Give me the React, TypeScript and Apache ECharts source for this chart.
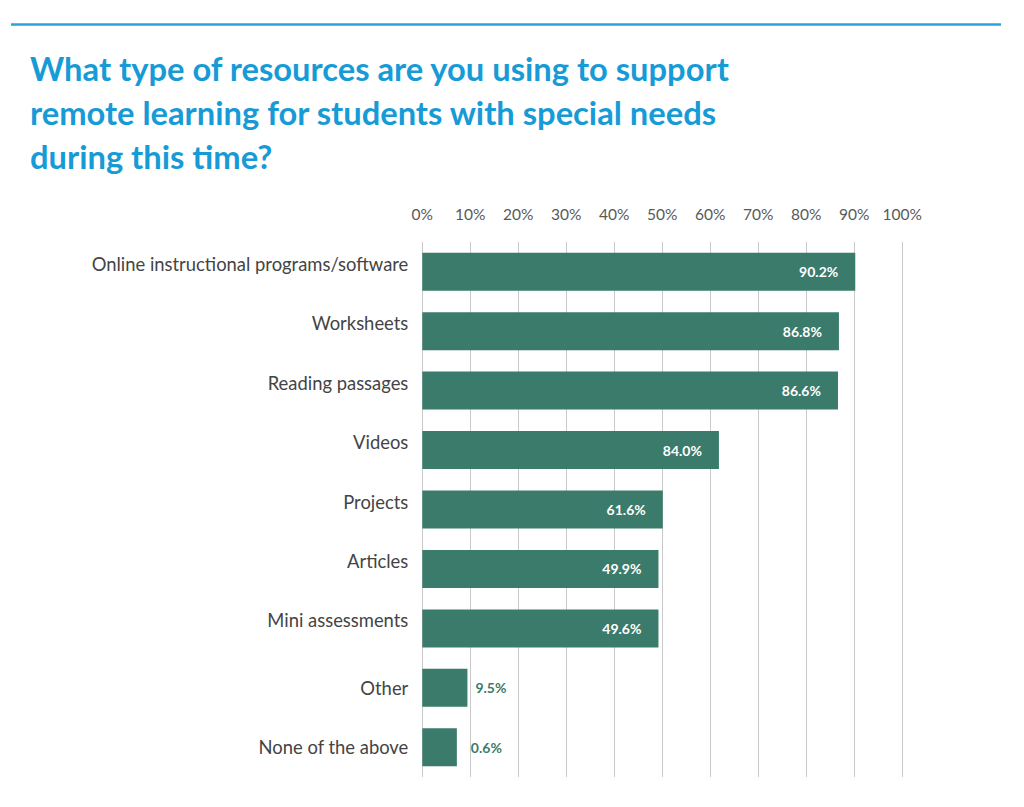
import React, { useEffect, useRef } from "react";
import * as echarts from "echarts";

const titleLines = [
  "What type of resources are you using to support",
  "remote learning for students with special needs",
  "during this time?",
];
const categories = [
  "Online instructional programs/software",
  "Worksheets",
  "Reading passages",
  "Videos",
  "Projects",
  "Articles",
  "Mini assessments",
  "Other",
  "None of the above",
];
// bar lengths as drawn in the reference (percent)
const barValues = [90.2, 86.8, 86.6, 61.8, 50.1, 49.2, 49.2, 9.4, 7.2];
// printed labels as shown in the reference
const labelTexts = ["90.2%", "86.8%", "86.6%", "84.0%", "61.6%", "49.9%", "49.6%", "9.5%", "0.6%"];
const tickValues = [0, 10, 20, 30, 40, 50, 60, 70, 80, 90, 100];

const GREEN = "#3b7b6b";
const FONT = "Lato";

export default function App() {
  const ref = useRef<HTMLDivElement>(null);
  useEffect(() => {
    document.body.style.margin = "0";
    const chart = echarts.init(ref.current!, null, { renderer: "svg" });
    const outside = [false, false, false, false, false, false, false, true, true];
    const outsideDist = [0, 0, 0, 0, 0, 0, 0, 8, 14];
    chart.setOption({
      animation: false,
      backgroundColor: "#ffffff",
      title: {
        text: titleLines.join("\n"),
        left: 30,
        top: 46,
        padding: 0,
        textStyle: {
          fontFamily: FONT,
          fontWeight: "bold",
          fontSize: 32.7,
          lineHeight: 44,
          color: "#179bd7",
        },
      },
      graphic: [
        {
          type: "line",
          shape: { x1: 11, y1: 24.5, x2: 1001, y2: 24.5 },
          style: { stroke: "#2aa3dc", lineWidth: 2.5 },
        },
      ],
      grid: { left: 422.3, right: 121.7, top: 242, bottom: 30, containLabel: false },
      xAxis: {
        type: "value",
        position: "top",
        min: tickValues[0],
        max: tickValues[tickValues.length - 1],
        interval: 10,
        axisLine: { show: false },
        axisTick: { show: false },
        axisLabel: {
          formatter: (v: number) => `${v}%`,
          fontFamily: FONT,
          fontSize: 15.5,
          color: "#595959",
          margin: 20,
        },
        splitLine: { show: true, lineStyle: { color: "#c9c9c9", width: 1 } },
      },
      yAxis: {
        type: "category",
        inverse: true,
        data: categories,
        axisLine: { show: false },
        axisTick: { show: false },
        axisLabel: {
          fontFamily: FONT,
          fontSize: 18.4,
          color: "#444444",
          margin: 14,
          formatter: (v: string) => {
            const i = categories.indexOf(v);
            return outside[i] ? `{b|${v}}` : `{a|${v}}`;
          },
          rich: {
            a: { fontFamily: FONT, fontSize: 18.4, color: "#444444", padding: [0, 0, 16, 0] },
            b: { fontFamily: FONT, fontSize: 18.4, color: "#444444" },
          },
        },
      },
      series: [
        {
          type: "bar",
          barWidth: 38,
          itemStyle: { color: GREEN },
          data: barValues.map((v, i) => ({
            value: v,
            label: outside[i]
              ? {
                  show: true,
                  position: "right",
                  distance: outsideDist[i],
                  color: GREEN,
                  fontWeight: "bold",
                }
              : { show: true, position: "insideRight", distance: 17, color: "#ffffff", fontWeight: "bold" },
          })),
          label: {
            show: true,
            fontFamily: FONT,
            fontSize: 14,
            formatter: (p: any) => labelTexts[p.dataIndex],
          },
        },
      ],
    });
    return () => chart.dispose();
  }, []);
  return <div ref={ref} style={{ position: "fixed", left: 0, top: 0, width: 1024, height: 807 }} />;
}
